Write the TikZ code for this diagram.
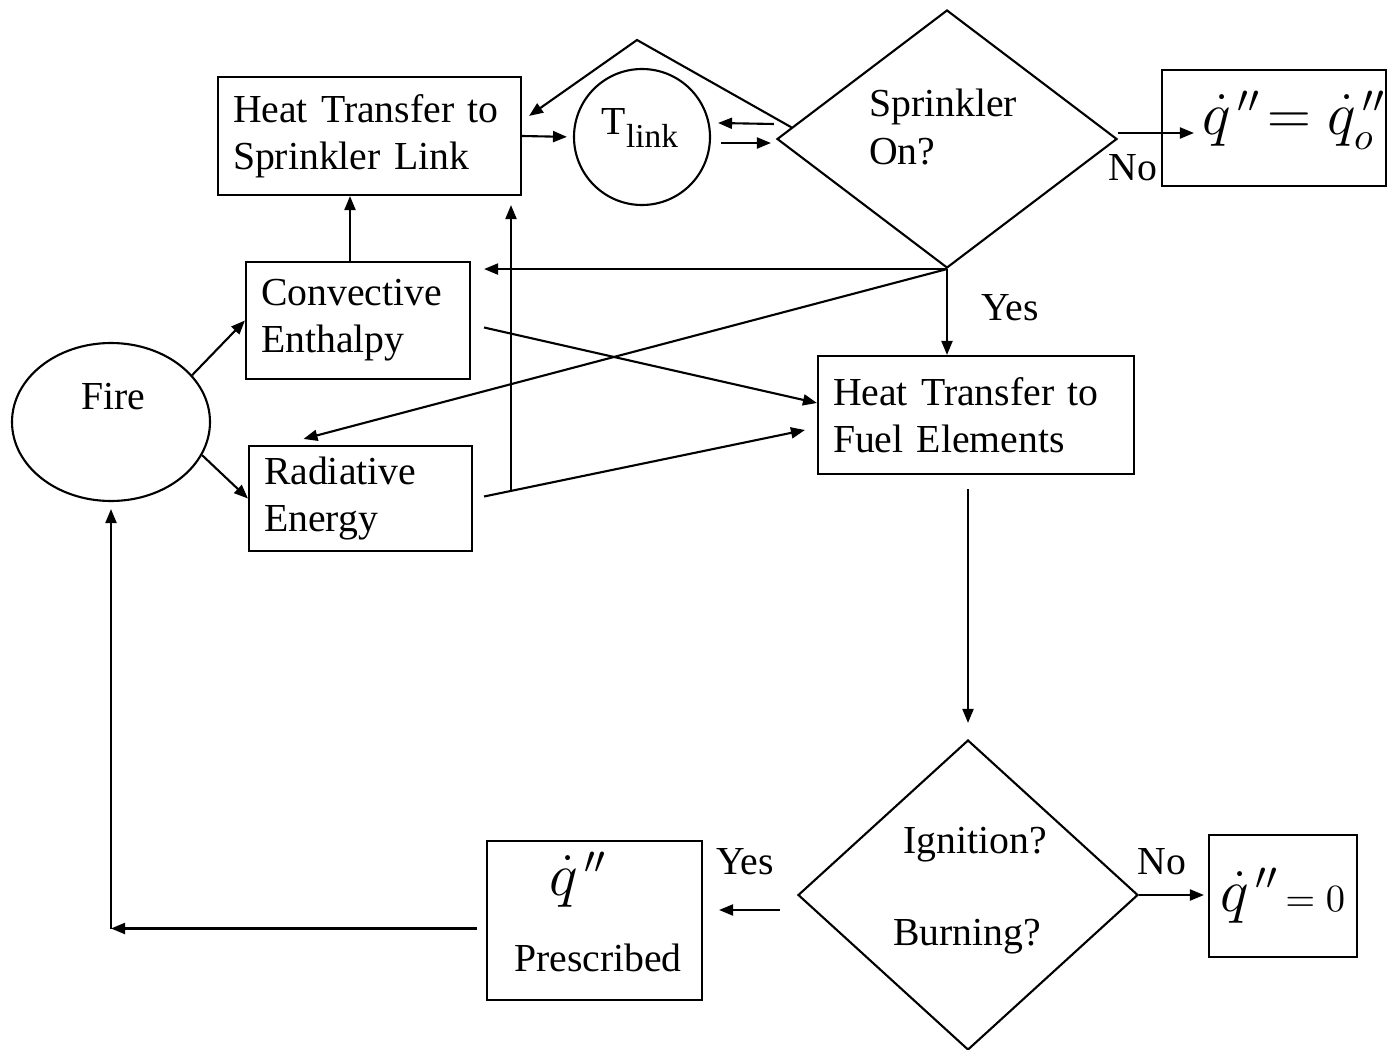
\documentclass[tikz,border=0pt]{standalone}
\usepackage{amsmath}
\usepackage{fontspec}
\setmainfont{Liberation Serif}
\usepackage{tikz}
\usetikzlibrary{calc}
\usetikzlibrary{shapes.geometric}
\usetikzlibrary{arrows.meta}

\tikzset{
    procbox/.style={draw, line width=0.6pt, inner xsep=1.5mm, inner ysep=0.5mm, align=left},
    decision/.style={draw, diamond, line width=0.6pt, inner sep=0pt, minimum width=34mm},
    arr/.style={-{Triangle[length=1.4mm,width=1.1mm]}, line width=0.6pt}
}

\begin{document}
\begin{tikzpicture}[x=0.1mm, y=-0.1mm, font=\fontsize{11.3}{13.4}\selectfont]
        \useasboundingbox (0,0) rectangle (1393,1050);

        % sprinkler part
        % --------------
        % nodes
        \node[procbox, text width=27.3mm, minimum height=11.8mm] (htsl) at (369.5,136) {Heat Transfer to\\Sprinkler Link};
        \node[draw, circle, line width=0.6pt, minimum size=13.6mm, inner sep=0pt] (tlink) at (642,137) {};
        \node (tlinktxt) at (640,128) {T\raisebox{-0.7ex}{\fontsize{9.5}{10}\selectfont link}};
        \node[decision, minimum height=25.8mm] (sprk) at (947,139) {};
        \node[align=left] (sprktxt) at (943,127) {Sprinkler\\On?};
        \node[procbox, minimum width=22.4mm, minimum height=11.6mm] (qo) at (1274,128) {};
        \node (qotxt) at (1294,120) {\fontsize{16}{19}\selectfont $\dot{q}^{\,\prime\prime}\!=\dot{q}_o^{\,\prime\prime}$};

        % fire part
        % ---------
        \node[draw, ellipse, line width=0.6pt, minimum width=19.8mm, minimum height=15.8mm] (fire) at (111,422) {};
        \node (firetxt) at (113,397) {Fire};
        \node[procbox, text width=19.4mm, minimum height=11.7mm] (conv) at (358,320.5) {Convective\\Enthalpy};
        \node[procbox, text width=19.3mm, minimum height=10.5mm] (rad) at (360.5,498.5) {Radiative\\Energy};
        \node[procbox, text width=28.6mm, minimum height=11.8mm] (htfe) at (976,415) {Heat Transfer to\\Fuel Elements};

        % ignition part
        % -------------
        \node[decision, minimum height=31mm] (ign) at (968,895) {};
        \node (igntxt) at (975,845) {Ignition?};
        \node (burntxt) at (967,937) {Burning?};
        \node[procbox, inner xsep=0.5mm, minimum width=14.8mm, minimum height=12.2mm] (qzero) at (1283,896) {{\fontsize{16}{18}\selectfont $\dot{q}^{\,\prime\prime}$}\,$=0$};
        \node[procbox, minimum width=21.5mm, minimum height=15.9mm] (presc) at (594.5,920.5) {};
        \node (presctxtq) at (578,880) {\fontsize{16}{18}\selectfont $\dot{q}^{\,\prime\prime}$};
        \node (presctxt) at (598,958) {Prescribed};

        % add labels
        \node (nosprk) at (1133,168) {No};
        \node (yessprk) at (1010,308) {Yes};
        \node (yesign) at (745,862) {Yes};
        \node (noign) at (1162,862) {No};

        % points
        \coordinate (cup) at ($(conv.north)+(-8,0)$);
        \coordinate (rstart) at ($(rad.east)+(11,-2)$);
        \coordinate (rend) at ($(htfe.west)+(-12,15)$);
        \coordinate (rjoin) at ($(rstart)!0.084!(rend)$);
        \coordinate (peak) at (637,40);
        \coordinate (pback) at ($(presc.west)+(-9,8)$);
        \coordinate (corner) at (pback -| fire.south);

        % draw connectors
        \draw[arr] (fire.30) -- (conv.west);
        \draw[arr] (fire.-20) -- (rad.west);
        \draw[arr] (cup) -- (cup |- htsl.south);
        \draw[arr] (rstart) -- (rend);
        \draw[arr, shorten >=0.9mm] (rjoin) -- (rjoin |- htsl.south);
        \draw[arr] ($(conv.east)+(13,7)$) -- ($(htfe.west)+(0,-12)$);

        \draw[arr, shorten >=0.6mm] (htsl.east) -- (tlink.west);
        \draw[arr] ($(tlink.east)+(10,6)$) -- ($(sprk.west)+(-5,4)$);
        \draw[arr] ($(sprk.west)+(-2,-15)$) -- ($(tlink.east)+(7,-14)$);
        \draw[arr] ($(sprk.west)!0.09!(sprk.north)$) -- (peak) -- ($(htsl.north east)+(7,40)$);
        \draw[arr] ($(sprk.east)+(0,-6)$) -- ($(qo.west)+(33,5)$);

        \draw[arr, shorten >=1.3mm] (sprk.south) -- (sprk.south -| conv.east);
        \draw[arr] (sprk.south) -- ($(rad.north)+(-57,-6)$);
        \draw[arr] (sprk.south) -- (sprk.south |- htfe.north);

        \draw[arr, shorten <=1.4mm, shorten >=1.6mm] (ign.north |- htfe.south) -- (ign.north);
        \draw[arr] ($(ign.west)+(-17,15)$) -- ($(presc.east)+(16,-10.5)$);
        \draw[arr, shorten >=0.4mm] (ign.east) -- (ign.east -| qzero.west);
        \draw[arr] (pback) -- (corner);
        \draw[arr, shorten >=0.7mm] (corner) -- (fire.south);

    \end{tikzpicture}
\end{document}
